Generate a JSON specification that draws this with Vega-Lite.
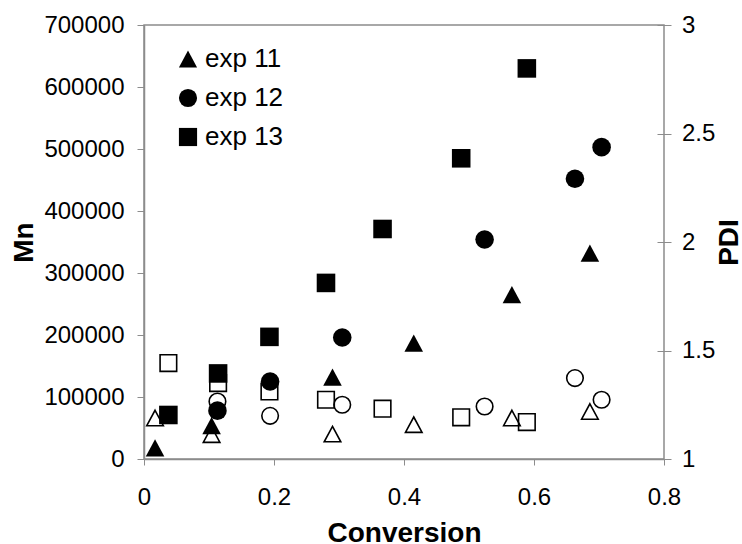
{
  "$schema": "https://vega.github.io/schema/vega-lite/v6.json",
  "autosize": {"type": "none"},
  "padding": {"left": 144, "top": 25, "right": 78, "bottom": 85},
  "width": 520,
  "height": 434,
  "background": "white",
  "data": {
    "values": [
      {"exp": "exp 11", "conv": 0.017, "Mn": 18000, "PDI": 1.189},
      {"exp": "exp 11", "conv": 0.104, "Mn": 54000, "PDI": 1.112},
      {"exp": "exp 11", "conv": 0.290, "Mn": 132000, "PDI": 1.115},
      {"exp": "exp 11", "conv": 0.415, "Mn": 187000, "PDI": 1.158},
      {"exp": "exp 11", "conv": 0.566, "Mn": 265000, "PDI": 1.189},
      {"exp": "exp 11", "conv": 0.686, "Mn": 332000, "PDI": 1.219},
      {"exp": "exp 12", "conv": 0.113, "Mn": 78000, "PDI": 1.265},
      {"exp": "exp 12", "conv": 0.194, "Mn": 125000, "PDI": 1.199},
      {"exp": "exp 12", "conv": 0.305, "Mn": 196000, "PDI": 1.250},
      {"exp": "exp 12", "conv": 0.524, "Mn": 354000, "PDI": 1.242},
      {"exp": "exp 12", "conv": 0.663, "Mn": 452000, "PDI": 1.373},
      {"exp": "exp 12", "conv": 0.704, "Mn": 503000, "PDI": 1.273},
      {"exp": "exp 13", "conv": 0.0375, "Mn": 71000, "PDI": 1.442},
      {"exp": "exp 13", "conv": 0.114, "Mn": 138000, "PDI": 1.350},
      {"exp": "exp 13", "conv": 0.193, "Mn": 197000, "PDI": 1.311},
      {"exp": "exp 13", "conv": 0.280, "Mn": 284000, "PDI": 1.273},
      {"exp": "exp 13", "conv": 0.367, "Mn": 371000, "PDI": 1.232},
      {"exp": "exp 13", "conv": 0.488, "Mn": 485000, "PDI": 1.192},
      {"exp": "exp 13", "conv": 0.589, "Mn": 630000, "PDI": 1.170}
    ]
  },
  "layer": [
    {
      "mark": {"type": "point", "filled": false, "stroke": "black", "strokeWidth": 1.6, "size": 275, "opacity": 1},
      "encoding": {
        "x": {
          "field": "conv", "type": "quantitative",
          "scale": {"domain": [0, 0.8], "nice": false, "zero": false},
          "axis": {
            "title": "Conversion", "values": [0, 0.2, 0.4, 0.6, 0.8], "format": ".1~f",
            "tickSize": 6, "labelPadding": 20, "titleX": 260, "titleY": 82, "titleBaseline": "alphabetic", "titleAnchor": null, "titleAlign": "center"
          }
        },
        "y": {
          "field": "PDI", "type": "quantitative",
          "scale": {"domain": [1, 3], "nice": false, "zero": false},
          "axis": {
            "orient": "right", "title": "PDI", "values": [1, 1.5, 2, 2.5, 3], "format": ".1~f",
            "offset": -7, "tickSize": 14, "domain": false, "labelPadding": 10.5,
            "titleAngle": -90, "titleX": 72.5, "titleY": 217, "titleBaseline": "middle", "titleAlign": "center"
          }
        },
        "shape": {
          "field": "exp", "type": "nominal",
          "scale": {"domain": ["exp 11", "exp 12", "exp 13"], "range": ["M0,-0.93L1,0.93L-1,0.93Z", "circle", "square"]},
          "legend": null
        }
      }
    },
    {
      "mark": {"type": "point", "filled": true, "fill": "black", "size": 345, "opacity": 1},
      "encoding": {
        "x": {
          "field": "conv", "type": "quantitative",
          "scale": {"domain": [0, 0.8], "nice": false, "zero": false},
          "axis": {
            "title": "Conversion", "values": [0, 0.2, 0.4, 0.6, 0.8], "format": ".1~f",
            "tickSize": 6, "labelPadding": 20, "titleX": 260, "titleY": 82, "titleBaseline": "alphabetic", "titleAnchor": null, "titleAlign": "center"
          }
        },
        "y": {
          "field": "Mn", "type": "quantitative",
          "scale": {"domain": [0, 700000], "nice": false, "zero": false},
          "axis": {
            "orient": "left", "title": "Mn", "values": [0, 100000, 200000, 300000, 400000, 500000, 600000, 700000], "format": "d",
            "tickSize": 7, "labelPadding": 13,
            "titleAngle": -90, "titleX": -119.6, "titleY": 217, "titleBaseline": "middle", "titleAlign": "center"
          }
        },
        "shape": {
          "field": "exp", "type": "nominal",
          "scale": {"domain": ["exp 11", "exp 12", "exp 13"], "range": ["M0,-0.93L1,0.93L-1,0.93Z", "circle", "square"]},
          "legend": {
            "title": null, "orient": "none", "legendX": 31, "legendY": 21,
            "padding": 0, "rowPadding": 13, "labelOffset": 4,
            "symbolSize": 330, "symbolFillColor": "black", "symbolStrokeWidth": 0,
            "labelFontSize": 26, "labelColor": "black", "labelFont": "Liberation Sans"
          }
        }
      }
    }
  ],
  "resolve": {"scale": {"y": "independent"}, "legend": {"shape": "independent"}},
  "config": {
    "font": "Liberation Sans",
    "view": {"stroke": "#8c8c8c", "strokeWidth": 1.5},
    "axis": {
      "grid": false,
      "domainColor": "#8c8c8c", "domainWidth": 1.5,
      "tickColor": "#8c8c8c", "tickWidth": 1,
      "labelFont": "Liberation Sans", "labelFontSize": 24, "labelColor": "black",
      "labelFlush": false, "labelOverlap": false,
      "titleFont": "Liberation Sans", "titleFontSize": 28, "titleFontWeight": "bold", "titleColor": "black"
    }
  }
}
